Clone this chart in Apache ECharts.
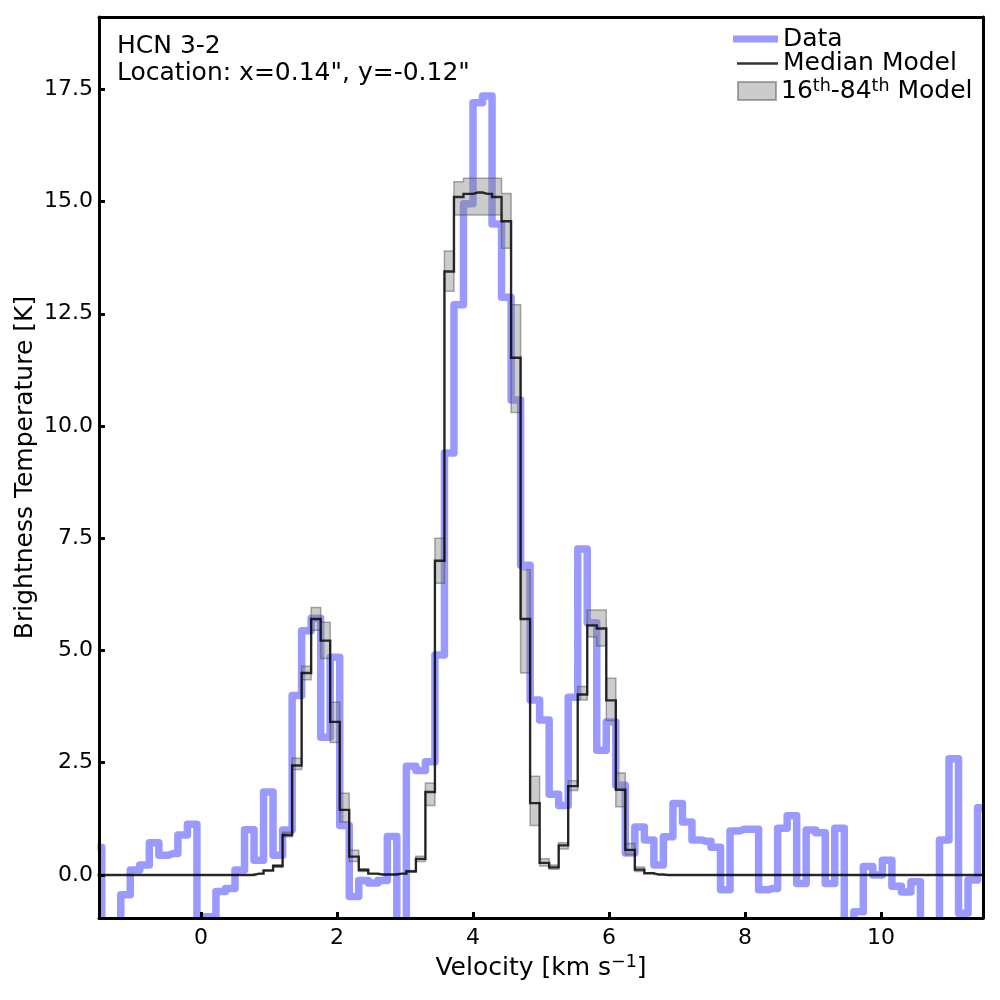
<!DOCTYPE html>
<html>
<head>
<meta charset="utf-8">
<script src="https://cdn.jsdelivr.net/npm/echarts/dist/echarts.min.js"></script>
<style>html,body{margin:0;padding:0;background:#fff}#c{width:1000px;height:1000px}</style>
</head>
<body>
<div id="c"></div>
<script>
// channel centre velocities [km/s]
const velocity = [
  -1.53,-1.39,-1.25,-1.11,-0.97,-0.83,-0.69,-0.55,-0.41,-0.27,
  -0.13,0.01,0.15,0.29,0.43,0.57,0.71,0.85,0.99,1.13,
  1.27,1.41,1.55,1.69,1.83,1.97,2.11,2.25,2.39,2.53,
  2.67,2.81,2.95,3.09,3.23,3.37,3.51,3.65,3.79,3.93,
  4.07,4.21,4.35,4.49,4.63,4.77,4.91,5.05,5.19,5.33,
  5.47,5.61,5.75,5.89,6.03,6.17,6.31,6.45,6.59,6.73,
  6.87,7.01,7.15,7.29,7.43,7.57,7.71,7.85,7.99,8.13,
  8.27,8.41,8.55,8.69,8.83,8.97,9.11,9.25,9.39,9.53,
  9.67,9.81,9.95,10.09,10.23,10.37,10.51,10.65,10.79,10.93,
  11.07,11.21,11.35,11.49,11.63
];
// observed brightness temperature [K]
const dataTb = [
  0.62,-1.2,-1.1,-0.44,0.11,0.22,0.72,0.44,0.48,0.89,
  1.13,-0.93,-0.93,-0.37,-0.30,0.11,1.01,0.33,1.85,0.44,
  1.0,4.0,5.44,5.72,3.07,4.85,1.1,-0.48,-0.12,-0.18,
  -0.12,0.86,-1.3,2.42,2.33,2.52,4.9,9.4,12.7,14.95,
  17.2,17.35,14.5,12.87,10.58,6.9,3.9,3.45,1.8,1.55,
  3.96,7.26,5.62,2.78,3.41,2.0,0.49,1.07,0.78,0.22,
  0.85,1.59,1.18,0.78,0.75,0.62,-0.33,0.98,1.02,1.02,
  -0.33,-0.3,1.04,1.32,-0.19,1.0,0.94,-0.19,1.04,-1.2,
  -0.82,0.19,0.0,0.33,-0.25,-0.38,-0.15,-1.3,-1.3,0.78,
  2.59,-0.85,-0.11,1.5,1.5
];
// median model
const modelMedian = [
  0,0,0,0,0,0,0,0,0,0,
  0,0,0,0,0,0,0,0.03,0.1,0.2,
  0.89,2.44,4.5,5.7,5.22,3.41,1.45,0.41,0.11,0.03,
  0.01,0.01,0.03,0.08,0.36,1.85,7.0,13.44,15.1,15.17,
  15.2,15.17,15.1,14.56,11.52,5.7,1.6,0.27,0.17,0.66,
  1.98,4.02,5.56,5.49,3.89,1.9,0.56,0.12,0.04,0.01,
  0,0,0,0,0,0,0,0,0,0,
  0,0,0,0,0,0,0,0,0,0,
  0,0,0,0,0,0,0,0,0,0,
  0,0,0,0,0
];
// 16th percentile model
const modelLo = [
  0,0,0,0,0,0,0,0,0,0,
  0,0,0,0,0,0,0,0.03,0.1,0.17,
  0.85,2.35,4.35,5.45,4.82,2.95,1.18,0.3,0.08,0.03,
  0.01,0.01,0.03,0.06,0.3,1.55,6.5,13.0,14.7,14.7,
  14.7,14.7,14.7,13.96,10.3,4.5,1.1,0.2,0.13,0.58,
  1.88,3.9,5.3,5.1,3.44,1.52,0.45,0.08,0.04,0.01,
  0,0,0,0,0,0,0,0,0,0,
  0,0,0,0,0,0,0,0,0,0,
  0,0,0,0,0,0,0,0,0,0,
  0,0,0,0,0
];
// 84th percentile model
const modelHi = [
  0,0,0,0,0,0,0,0,0,0,
  0,0,0,0,0,0,0,0.03,0.1,0.23,
  0.95,2.6,4.65,5.96,5.63,3.85,1.82,0.55,0.14,0.03,
  0.01,0.01,0.03,0.1,0.42,2.05,7.5,13.9,15.44,15.52,
  15.52,15.52,15.52,15.18,12.7,6.8,2.2,0.36,0.22,0.72,
  2.1,4.2,5.9,5.9,4.38,2.27,0.7,0.18,0.04,0.01,
  0,0,0,0,0,0,0,0,0,0,
  0,0,0,0,0,0,0,0,0,0,
  0,0,0,0,0,0,0,0,0,0,
  0,0,0,0,0
];
const xTicks = [0, 2, 4, 6, 8, 10];
const yTicks = [0, 2.5, 5, 7.5, 10, 12.5, 15, 17.5];
const xRange = [-1.5, 11.5];
const yRange = [-0.958, 19.11];

const FONT = "'DejaVu Sans', sans-serif";
const GRID = {left: 99, right: 17, top: 17, bottom: 82};
const W = 1000, H = 1000;
const BLUE = 'rgba(0,0,255,0.4)';
const DARK = 'rgba(0,0,0,0.8)';
const BAND_FILL = 'rgba(128,128,128,0.4)';
const BAND_EDGE = 'rgba(70,70,70,0.45)';

function renderBand(params, api) {
  if (params.dataIndexInside !== 0) return null;
  const n = velocity.length;
  const top = [], bot = [];
  for (let i = 0; i < n; i++) {
    const xl = i === 0 ? velocity[0] : (velocity[i - 1] + velocity[i]) / 2;
    const xr = i === n - 1 ? velocity[n - 1] : (velocity[i] + velocity[i + 1]) / 2;
    top.push(api.coord([xl, modelHi[i]]), api.coord([xr, modelHi[i]]));
    bot.push(api.coord([xl, modelLo[i]]), api.coord([xr, modelLo[i]]));
  }
  return {
    type: 'polygon',
    shape: {points: top.concat(bot.reverse())},
    style: {fill: BAND_FILL, stroke: BAND_EDGE, lineWidth: 1.5},
    silent: true
  };
}

const spine = {show: true, onZero: false, lineStyle: {color: '#000', width: 3}};
const gl = GRID.left, gr = W - GRID.right, gt = GRID.top, gb = H - GRID.bottom;
const masks = [
  {type: 'rect', shape: {x: 0, y: 0, width: gl - 1.5, height: H}},
  {type: 'rect', shape: {x: gr + 1.5, y: 0, width: W - gr, height: H}},
  {type: 'rect', shape: {x: 0, y: 0, width: W, height: gt - 1.5}},
  {type: 'rect', shape: {x: 0, y: gb + 1.5, width: W, height: H - gb}}
].map(e => Object.assign(e, {style: {fill: '#fff'}, z: 8, silent: true}));

const chart = echarts.init(document.getElementById('c'), null, {renderer: 'canvas'});
chart.setOption({
  animation: false,
  backgroundColor: '#fff',
  textStyle: {fontFamily: FONT},
  title: {
    text: 'HCN 3-2\nLocation: x=0.14", y=-0.12"',
    left: 117, top: 33, padding: 0,
    textStyle: {fontFamily: FONT, fontSize: 25, fontWeight: 'normal', color: '#000', lineHeight: 27}
  },
  legend: [
    {
      data: [{name: 'Data', icon: 'rect', itemStyle: {color: BLUE, borderWidth: 0}}],
      left: 733, top: 26.5, padding: 0, itemWidth: 45, itemHeight: 7, selectedMode: false,
      textStyle: {fontFamily: FONT, fontSize: 25, color: '#000'}
    },
    {
      data: [{name: 'Median Model', icon: 'rect', itemStyle: {color: '#333', borderWidth: 0}}],
      left: 737, top: 51, padding: 0, itemWidth: 41, itemHeight: 2.5, selectedMode: false,
      textStyle: {fontFamily: FONT, fontSize: 25, color: '#000'}
    },
    {
      data: [{name: '16th-84th Model', icon: 'rect', itemStyle: {color: BAND_FILL, borderColor: BAND_EDGE, borderWidth: 2}}],
      left: 737, top: 77, padding: 0, itemWidth: 38, itemHeight: 18, selectedMode: false,
      formatter: () => '{n|16}{s|th}{n|-84}{s|th}{n| Model}',
      textStyle: {
        fontFamily: FONT, fontSize: 25, color: '#000',
        rich: {
          n: {fontFamily: FONT, fontSize: 25, color: '#000', lineHeight: 28},
          s: {fontFamily: FONT, fontSize: 17.5, color: '#000', lineHeight: 22, verticalAlign: 'top'}
        }
      }
    }
  ],
  grid: Object.assign({containLabel: false}, GRID),
  xAxis: [
    {
      type: 'value', min: xRange[0], max: xRange[1], position: 'bottom', z: 10,
      axisLine: spine,
      axisTick: {show: true, inside: true, length: 6, lineStyle: {color: '#000', width: 3}, customValues: xTicks},
      axisLabel: {show: true, customValues: xTicks, margin: 9, color: '#000', fontSize: 22, fontFamily: FONT, formatter: v => String(v)},
      splitLine: {show: false},
      name: '{a|Velocity [km s}{b|\u22121}{a|]}',
      nameLocation: 'middle', nameGap: 35, nameMoveOverlap: false,
      nameTextStyle: {
        fontFamily: FONT, fontSize: 25, color: '#000',
        rich: {
          a: {fontFamily: FONT, fontSize: 25, color: '#000', lineHeight: 30},
          b: {fontFamily: FONT, fontSize: 17.5, color: '#000', lineHeight: 22, verticalAlign: 'top'}
        }
      }
    },
    {
      type: 'value', min: xRange[0], max: xRange[1], position: 'top', z: 10,
      axisLine: spine, axisTick: {show: false}, axisLabel: {show: false}, splitLine: {show: false}
    }
  ],
  yAxis: [
    {
      type: 'value', min: yRange[0], max: yRange[1], position: 'left', z: 10,
      axisLine: spine,
      axisTick: {show: true, inside: true, length: 6, lineStyle: {color: '#000', width: 3}, customValues: yTicks},
      axisLabel: {show: true, customValues: yTicks, margin: 6, color: '#000', fontSize: 22, fontFamily: FONT, formatter: v => v.toFixed(1)},
      splitLine: {show: false},
      name: 'Brightness Temperature [K]',
      nameLocation: 'middle', nameGap: 61, nameRotate: 90, nameMoveOverlap: false,
      nameTextStyle: {fontFamily: FONT, fontSize: 25, color: '#000'}
    },
    {
      type: 'value', min: yRange[0], max: yRange[1], position: 'right', z: 10,
      axisLine: spine, axisTick: {show: false}, axisLabel: {show: false}, splitLine: {show: false}
    }
  ],
  series: [
    {
      name: 'Data', type: 'line', step: 'middle', xAxisIndex: 0, yAxisIndex: 0,
      data: velocity.map((v, i) => [v, dataTb[i]]),
      symbol: 'none', showSymbol: false, silent: true, z: 2,
      lineStyle: {color: BLUE, width: 7.5, join: 'round', cap: 'round'},
      itemStyle: {color: BLUE}
    },
    {
      name: '16th-84th Model', type: 'custom', xAxisIndex: 0, yAxisIndex: 0,
      data: velocity.map((v, i) => [v, modelLo[i], modelHi[i]]),
      encode: {x: 0, y: [1, 2]},
      renderItem: renderBand, silent: true, z: 3,
      itemStyle: {color: BAND_FILL}
    },
    {
      name: 'Median Model', type: 'line', step: 'middle', xAxisIndex: 0, yAxisIndex: 0,
      data: velocity.map((v, i) => [v, modelMedian[i]]),
      symbol: 'none', showSymbol: false, silent: true, z: 4,
      lineStyle: {color: DARK, width: 2.4, join: 'miter'},
      itemStyle: {color: DARK}
    }
  ],
  graphic: {elements: masks}
});
</script>
</body>
</html>
